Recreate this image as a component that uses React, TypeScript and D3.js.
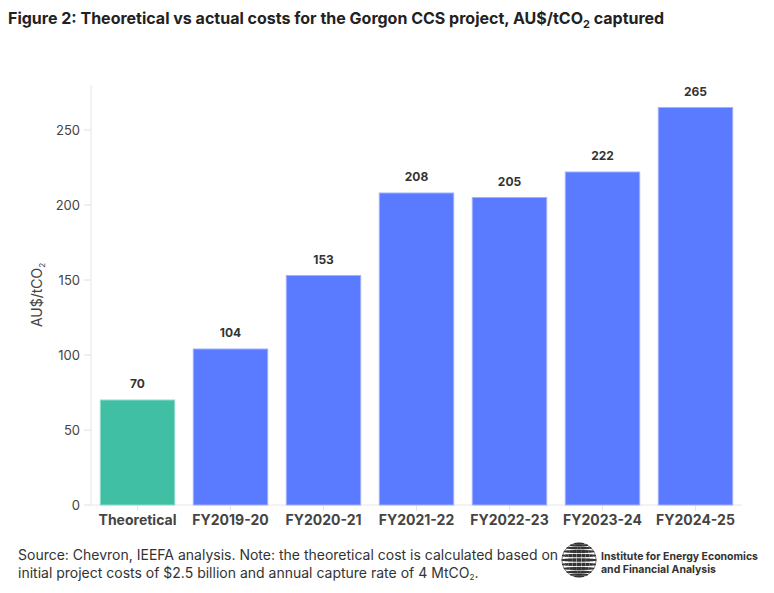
import * as d3 from "d3";

const categories = ["Theoretical", "FY2019-20", "FY2020-21", "FY2021-22", "FY2022-23", "FY2023-24", "FY2024-25"];
const costs = [70, 104, 153, 208, 205, 222, 265];
const yTicks = [0, 50, 100, 150, 200, 250];

const W = 774;
const H = 593;
const margin = { top: 85, right: 32, bottom: 88, left: 91 };
const font = "Inter, 'Noto Sans', sans-serif";

export default function App() {
  const x = d3
    .scaleBand<string>()
    .domain(categories)
    .range([margin.left, W - margin.right])
    .paddingInner(0.2)
    .paddingOuter(0.1);

  const y = d3
    .scaleLinear()
    .domain([0, 280])
    .range([H - margin.bottom, margin.top]);

  const baseY = y(0);

  // globe logo dots
  const globe = { cx: 579, cy: 560, r: 17 };
  const lats = d3.range(-75, 90, 15);
  const lons = d3.range(-80, 90, 16);
  const dots: { x: number; y: number; s: number }[] = [];
  lats.forEach((la) => {
    lons.forEach((lo) => {
      const phi = (la * Math.PI) / 180;
      const lam = (lo * Math.PI) / 180;
      dots.push({
        x: globe.cx + globe.r * Math.cos(phi) * Math.sin(lam),
        y: globe.cy - globe.r * Math.sin(phi),
        s: 1.7 * Math.cos(phi) * Math.cos(lam) + 0.5,
      });
    });
  });

  return (
    <svg width={W} height={H} style={{ display: "block", margin: "-8px", fontFamily: font }}>
      <rect width={W} height={H} fill="#fff" />
      <text x={8} y={24} fontSize={16} fontWeight={700} fill="#222">
        Figure 2: Theoretical vs actual costs for the Gorgon CCS project, AU$/tCO
        <tspan fontSize={11} dy={4}>2</tspan>
        <tspan dy={-4}> captured</tspan>
      </text>

      {/* axes */}
      <line x1={margin.left} x2={margin.left} y1={margin.top} y2={baseY} stroke="#e6e6e6" />
      <line x1={margin.left} x2={W - margin.right} y1={baseY} y2={baseY} stroke="#e6e6e6" />
      {yTicks.map((t) => (
        <g key={t}>
          <line x1={margin.left - 7} x2={margin.left} y1={y(t)} y2={y(t)} stroke="#e0e0e0" />
          <text x={margin.left - 11} y={y(t)} dy="0.35em" textAnchor="end" fontSize={13} fill="#444">
            {t}
          </text>
        </g>
      ))}
      <text
        transform={`translate(42,${(margin.top + baseY) / 2}) rotate(-90)`}
        textAnchor="middle"
        fontSize={14}
        fill="#444"
      >
        AU$/tCO<tspan fontSize={8} dy={3}>2</tspan>
      </text>

      {categories.map((c, i) => {
        const cx = (x(c) ?? 0) + x.bandwidth() / 2;
        const fill = i === 0 ? "#41bfa5" : "#5a7aff";
        const stroke = i === 0 ? "#8fdcc9" : "#9fb0ff";
        return (
          <g key={c}>
            <line x1={cx} x2={cx} y1={baseY} y2={baseY + 6} stroke="#e6e6e6" />
            <rect
              x={x(c)}
              y={y(costs[i])}
              width={x.bandwidth()}
              height={baseY - y(costs[i])}
              fill={fill}
              stroke={stroke}
              strokeWidth={1}
            />
            <text x={cx} y={y(costs[i]) - 12} textAnchor="middle" fontSize={12} fontWeight={700} fill="#333">
              {costs[i]}
            </text>
            <text x={cx} y={525} textAnchor="middle" fontSize={14} fontWeight={700} fill="#444">
              {c}
            </text>
          </g>
        );
      })}

      {/* footer */}
      <text x={18} y={560} fontSize={14} fill="#333">
        Source: Chevron, IEEFA analysis. Note: the theoretical cost is calculated based on
      </text>
      <text x={18} y={578} fontSize={14} fill="#333">
        initial project costs of $2.5 billion and annual capture rate of 4 MtCO
        <tspan fontSize={8} dy={2}>2</tspan>
        <tspan dy={-2}>.</tspan>
      </text>

      <circle cx={globe.cx} cy={globe.cy} r={globe.r} fill="none" stroke="#555" strokeWidth={0.8} />
      {dots
        .filter((d) => d.s > 0.3)
        .map((d, i) => (
          <rect key={i} x={d.x - d.s} y={d.y - d.s * 0.8} width={d.s * 2} height={d.s * 1.6} fill="#333" />
        ))}
      <text x={601} y={560} fontSize={11} fontWeight={700} fill="#333" textLength={157} lengthAdjust="spacingAndGlyphs">
        Institute for Energy Economics
      </text>
      <text x={601} y={573} fontSize={11} fontWeight={700} fill="#333" textLength={115} lengthAdjust="spacingAndGlyphs">
        and Financial Analysis
      </text>
    </svg>
  );
}
